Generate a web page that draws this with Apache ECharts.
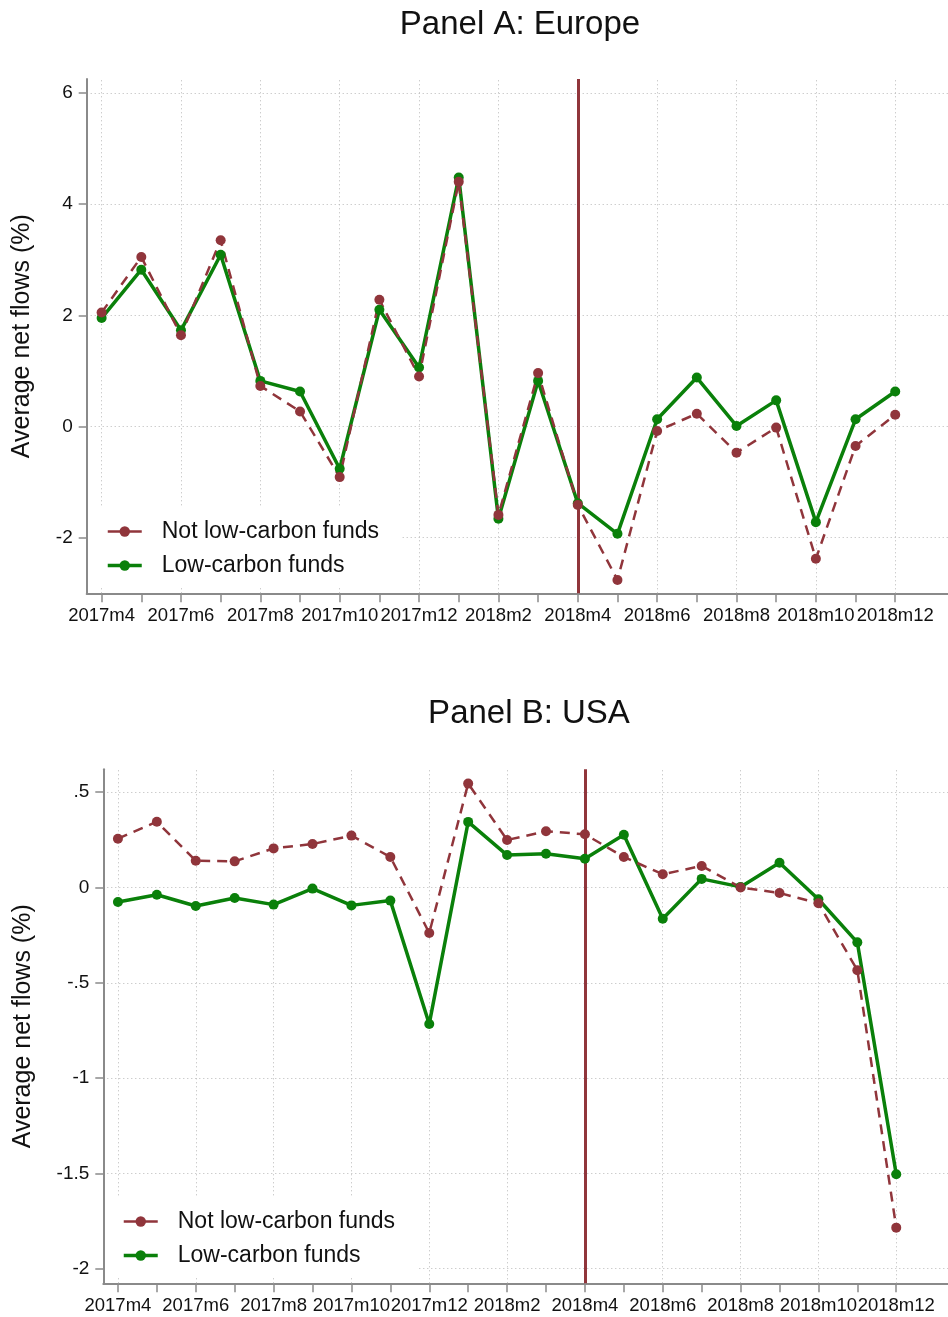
<!DOCTYPE html>
<html>
<head>
<meta charset="utf-8">
<script src="https://cdn.jsdelivr.net/npm/echarts@6/dist/echarts.min.js"></script>
<style>
html, body { margin: 0; padding: 0; background: #fff; }
#chart { width: 948px; height: 1317px; }
</style>
</head>
<body>
<div id="chart"></div>
<script>
// monthly periods shown on both panels
const months = ['2017m4', '2017m5', '2017m6', '2017m7', '2017m8', '2017m9', '2017m10', '2017m11',
	'2017m12', '2018m1', '2018m2', '2018m3', '2018m4', '2018m5', '2018m6', '2018m7', '2018m8',
	'2018m9', '2018m10', '2018m11', '2018m12'
];
const eventMonth = '2018m4';

// Panel A: Europe
const europeNotLow = [2.05, 3.05, 1.64, 3.35, 0.73, 0.27, -0.91, 2.28, 0.90, 4.40, -1.59, 0.96,
	-1.41, -2.76, -0.08, 0.23, -0.47, -0.02, -2.38, -0.35, 0.21
];
const europeLow = [1.95, 2.82, 1.73, 3.09, 0.82, 0.63, -0.76, 2.10, 1.06, 4.48, -1.66, 0.82,
	-1.38, -1.93, 0.13, 0.88, 0.01, 0.47, -1.72, 0.13, 0.63
];
const europeTicks = [-2, 0, 2, 4, 6];

// Panel B: USA
const usaNotLow = [0.256, 0.345, 0.14, 0.137, 0.205, 0.228, 0.272, 0.16, -0.239, 0.545, 0.249, 0.295,
	0.279, 0.16, 0.069, 0.113, 0.0, -0.029, -0.083, -0.434, -1.785
];
const usaLow = [-0.076, -0.038, -0.097, -0.055, -0.09, -0.006, -0.094, -0.069, -0.716, 0.344, 0.17, 0.177,
	0.151, 0.277, -0.164, 0.045, 0.003, 0.13, -0.062, -0.288, -1.505
];
const usaTicks = [-2, -1.5, -1, -0.5, 0, 0.5];

const seriesNames = ['Not low-carbon funds', 'Low-carbon funds'];
const red = '#90353b';
const green = '#0a800a';
const axisGray = '#8a8a8a';
const gridGray = '#b8b8b8';
const font = '"Liberation Sans", Arial, sans-serif';

const monthIdx = months.map((m, i) => i);
const evenIdx = monthIdx.filter(i => i % 2 === 0);

let myChart = echarts.init(document.getElementById('chart'), null, { renderer: 'canvas' });

function fmtY(v) {
	if (v === 0) return '0';
	return String(v).replace('0.', '.');
}

function xAxis(gridIndex) {
	return {
		type: 'value',
		gridIndex: gridIndex,
		min: -0.376,
		max: 21.33,
		axisLine: { show: true, onZero: false, lineStyle: { color: axisGray, width: 2 } },
		axisTick: { show: true, length: 9, customValues: monthIdx, lineStyle: { color: axisGray, width: 1.5 } },
		axisLabel: {
			customValues: evenIdx,
			hideOverlap: false,
			margin: 13,
			fontSize: 18.5,
			fontFamily: font,
			color: '#111',
			formatter: v => months[Math.round(v)] || ''
		},
		splitLine: { show: false }
	};
}

function yAxis(gridIndex, min, max, ticks, gap) {
	return {
		type: 'value',
		gridIndex: gridIndex,
		min: min,
		max: max,
		name: 'Average net flows (%)',
		nameLocation: 'middle',
		nameGap: gap,
		nameTextStyle: { fontSize: 25, fontFamily: font, color: '#111' },
		axisLine: { show: true, onZero: false, lineStyle: { color: axisGray, width: 2 } },
		axisTick: { show: true, length: 8, customValues: ticks, lineStyle: { color: axisGray, width: 1.5 } },
		axisLabel: { customValues: ticks, margin: 14, fontSize: 19, fontFamily: font, color: '#111', formatter: fmtY },
		splitLine: { show: true, lineStyle: { color: gridGray, width: 1, type: [1, 3] } }
	};
}

function panelSeries(xi, yi, notLow, low) {
	return [{
		// dotted vertical grid every two months
		name: 'grid',
		type: 'line',
		xAxisIndex: xi,
		yAxisIndex: yi,
		data: [],
		silent: true,
		markLine: {
			silent: true,
			z: 1,
			symbol: ['none', 'none'],
			label: { show: false },
			emphasis: { disabled: true },
			lineStyle: { color: gridGray, width: 1, type: [1, 3] },
			data: evenIdx.map(i => ({ xAxis: i }))
		}
	}, {
		name: seriesNames[1],
		type: 'line',
		xAxisIndex: xi,
		yAxisIndex: yi,
		data: low.map((v, i) => [i, v]),
		symbol: 'circle',
		symbolSize: 10,
		lineStyle: { color: green, width: 3.5 },
		itemStyle: { color: green },
		markLine: {
			silent: true,
			z: 1,
			symbol: ['none', 'none'],
			label: { show: false },
			lineStyle: { color: red, width: 3, type: 'solid' },
			data: [{ xAxis: months.indexOf(eventMonth) }]
		}
	}, {
		name: seriesNames[0],
		type: 'line',
		xAxisIndex: xi,
		yAxisIndex: yi,
		data: notLow.map((v, i) => [i, v]),
		symbol: 'circle',
		symbolSize: 10,
		lineStyle: { color: red, width: 2.5, type: [10, 7] },
		itemStyle: { color: red }
	}];
}

function legend(left, top) {
	return {
		data: [
			{ name: seriesNames[0], lineStyle: { width: 2.5, type: 'solid', color: red } },
			{ name: seriesNames[1], lineStyle: { width: 3.5, type: 'solid', color: green } }
		],
		orient: 'vertical',
		left: left,
		top: top,
		backgroundColor: '#fff',
		padding: [13, 22, 10, 17],
		itemWidth: 34,
		itemHeight: 13,
		itemGap: 11,
		textStyle: { fontSize: 23, fontFamily: font, color: '#111', lineHeight: 22, padding: [0, 0, 0, 15] }
	};
}

let option = {
	animation: false,
	backgroundColor: '#fff',
	title: [{
		text: 'Panel A: Europe',
		left: 515,
		textAlign: 'center',
		top: 3,
		textStyle: { fontSize: 33, fontWeight: 'normal', fontFamily: font, color: '#111' }
	}, {
		text: 'Panel B: USA',
		left: 524,
		textAlign: 'center',
		top: 692,
		textStyle: { fontSize: 33, fontWeight: 'normal', fontFamily: font, color: '#111' }
	}],
	legend: [legend(89, 507), legend(105, 1197)],
	grid: [
		{ left: 86.7, top: 79, width: 865, height: 514.3 },
		{ left: 103.3, top: 769.3, width: 848.4, height: 514 }
	],
	xAxis: [xAxis(0), xAxis(1)],
	yAxis: [
		yAxis(0, -3, 6.25, europeTicks, 52),
		yAxis(1, -2.077, 0.62, usaTicks, 68)
	],
	series: panelSeries(0, 0, europeNotLow, europeLow).concat(panelSeries(1, 1, usaNotLow, usaLow))
};

myChart.setOption(option);
</script>
</body>
</html>
